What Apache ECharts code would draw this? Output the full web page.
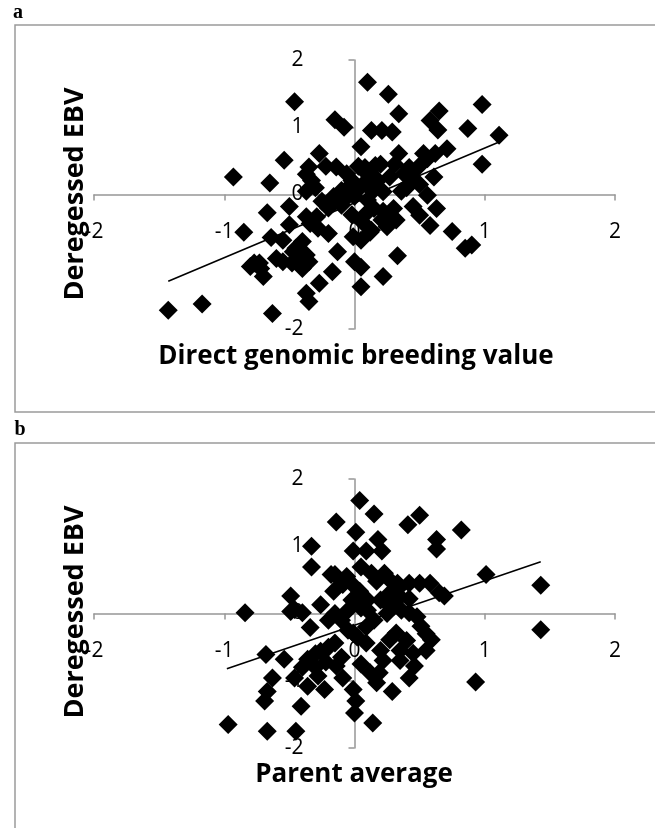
<!DOCTYPE html>
<html>
<head>
<meta charset="utf-8">
<script src="https://cdn.jsdelivr.net/npm/echarts@6/dist/echarts.min.js"></script>
<style>
html,body{margin:0;padding:0;background:#fff;}
#chart{width:655px;height:828px;}
</style>
</head>
<body>
<div id="chart"></div>
<script>
// ---- data ----
const xTicks = [-2, -1, 0, 1, 2];
const yTicks = [-2, -1, 0, 1, 2];

const panelLabels = ['a', 'b'];
const yTitle = 'Deregessed EBV';
const xTitleA = 'Direct genomic breeding value';
const xTitleB = 'Parent average';

// Panel a: direct genomic breeding value vs deregressed EBV
const dgbvPoints = [
  [0.10,1.67],[0.26,1.49],[0.34,1.20],[-0.46,1.38],[-0.15,1.11],[-0.08,1.00],[0.13,0.95],[0.21,0.95],
  [0.29,0.93],[0.98,1.34],[0.65,1.24],[0.58,1.10],[0.64,0.96],[0.87,0.98],[1.11,0.88],[0.71,0.68],
  [0.05,0.71],[0.98,0.45],[-0.27,0.61],[-0.54,0.51],[-0.93,0.26],[-0.65,0.17],
  [-0.35,0.41],[-0.37,0.30],[-0.33,0.21],[-0.37,0.05],[-0.14,0.41],[-0.06,0.31],[0.03,0.42],[0.10,0.30],
  [0.16,0.43],[0.34,0.61],[0.31,0.45],[0.38,0.31],[0.43,0.17],[0.49,0.41],[0.56,0.53],[0.61,0.26],
  [0.53,0.61],[0.62,0.61],[0.27,0.26],[0.18,0.21],[0.22,0.04],[0.06,0.14],[-0.02,0.21],[-0.10,0.06],
  [-0.16,-0.03],[-0.10,-0.16],[0.00,-0.03],[0.10,-0.08],[0.15,-0.21],[0.56,-0.01],[0.63,-0.21],[0.45,-0.18],
  [0.50,-0.31],[0.58,-0.46],[0.30,-0.21],[0.32,-0.38],[0.21,-0.38],[0.13,-0.53],[0.06,-0.41],[-0.01,-0.63],
  [0.75,-0.55],[0.85,-0.80],[0.90,-0.75],[0.33,-0.91],[0.22,-1.22],[0.05,-1.37],[0.00,-1.00],[0.05,-1.08],
  [-0.13,-0.85],[-0.20,-0.58],[-0.17,-1.15],[-0.27,-1.32],[-0.37,-1.47],[-0.35,-1.59],[-0.63,-1.77],[-1.17,-1.63],
  [-1.43,-1.72],[-0.85,-0.56],[-0.64,-0.64],[-0.67,-0.27],[-0.50,-0.18],[-0.37,-0.33],[-0.34,-0.43],[-0.29,-0.33],
  [-0.55,-0.68],[-0.40,-0.70],[-0.45,-0.80],[-0.40,-0.95],[-0.37,-0.90],[-0.55,-1.00],[-0.40,-1.10],[-0.60,-0.95],
  [-0.73,-1.02],[-0.70,-1.22],[-0.77,-1.02],[-0.72,-1.10],[-0.80,-1.07],[-0.47,-0.85],[-0.35,-1.00],[-0.48,-1.02],
  [0.12,-0.56],[0.05,-0.68],[0.22,-0.25],[0.27,-0.35],[0.25,-0.48],[0.40,0.10],[0.45,0.22],[0.36,0.05],
  [0.42,0.40],[0.50,0.15],[0.12,0.15],[0.14,0.05],[-0.05,0.10],[-0.08,-0.08],[0.03,0.08],[-0.22,0.42],
  [-0.30,0.10],[-0.25,-0.10],[-0.20,-0.20],[-0.28,-0.50],[-0.50,-0.45],[0.20,0.45],[0.08,0.40],[-0.02,-0.30],
  [0.08,-0.30]
];
const dgbvTrend = [[-1.43,-1.29],[1.11,0.78]];

// Panel b: parent average vs deregressed EBV
const paPoints = [
  [0.04,1.68],[0.15,1.48],[-0.14,1.36],[0.50,1.46],[0.41,1.32],[0.82,1.24],[0.01,1.21],[0.63,1.10],
  [0.63,0.96],[0.18,1.10],[0.21,0.93],[0.09,0.93],[-0.01,0.93],[-0.33,1.00],[-0.33,0.69],[0.05,0.69],
  [1.01,0.58],[1.43,0.42],[1.43,-0.24],[0.93,-1.02],[-0.15,0.58],[-0.09,0.43],[-0.16,0.33],[0.23,0.60],
  [0.17,0.48],[0.33,0.45],[0.42,0.45],[0.50,0.45],[0.58,0.45],[0.65,0.31],[0.69,0.26],[0.04,0.33],
  [0.29,0.46],[0.27,0.30],[0.35,0.25],[0.42,0.22],[0.30,0.10],[0.36,0.05],[0.20,0.20],[0.10,0.20],
  [0.05,0.08],[-0.02,0.20],[-0.49,0.26],[-0.46,0.06],[-0.40,0.01],[-0.84,0.01],[-0.26,0.13],[-0.18,0.58],
  [-0.49,0.03],[-0.34,-0.21],[-0.15,0.00],[-0.10,-0.10],[-0.20,-0.10],[-0.05,-0.25],[0.02,-0.35],[0.09,-0.20],
  [0.42,0.01],[0.51,-0.19],[0.59,-0.39],[0.45,-0.59],[0.46,-0.78],[0.42,-0.96],[0.29,-1.16],[0.19,-0.88],
  [0.17,-1.03],[0.12,-0.88],[0.14,-1.63],[0.00,-1.48],[0.01,-1.30],[-0.01,-1.13],[-0.09,-0.96],[-0.14,-0.78],
  [0.27,-0.39],[0.32,-0.29],[0.09,-0.44],[-0.01,-0.29],[-0.15,-0.44],[-0.68,-0.61],[-0.54,-0.68],[-0.36,-0.68],
  [-0.26,-0.56],[-0.63,-0.96],[-0.46,-0.96],[-0.67,-1.16],[-0.69,-1.30],[-0.41,-1.38],[-0.36,-1.08],[-0.28,-0.93],
  [-0.23,-1.13],[-0.97,-1.65],[-0.67,-1.75],[-0.45,-1.75],[-0.20,-0.50],[-0.30,-0.60],[-0.10,-0.65],[0.20,-0.55],
  [0.35,-0.55],[0.40,-0.40],[0.55,-0.30],[0.48,-0.05],[0.25,0.00],[0.15,-0.10],[0.10,0.05],[-0.05,0.05],
  [0.00,0.40],[-0.06,0.55],[0.13,0.60],[0.35,0.40],[0.25,0.15],[-0.40,-0.80],[-0.30,-0.80],[-0.22,-0.72],
  [0.05,-0.75],[0.22,-0.70],[0.35,-0.70],[0.55,-0.55]
];
const paTrend = [[-0.98,-0.82],[1.43,0.77]];

// ---- chart ----
const chart = echarts.init(document.getElementById('chart'), null, {renderer: 'canvas'});
const axisGray = '#969696';
const tickFont = {fontFamily: 'Open Sans', fontSize: 21, color: '#000'};
const GRID_W = 521, GRID_H = 269;

// the axes cross at zero: shift each axis from the grid edge to the zero line
function xAxisFor(gi) {
  return {
    type: 'value', gridIndex: gi, position: 'bottom',
    offset: -GRID_H * (0 - yTicks[0]) / (yTicks[yTicks.length - 1] - yTicks[0]),
    min: xTicks[0], max: xTicks[xTicks.length - 1], interval: 1,
    axisLine: {onZero: false, lineStyle: {color: axisGray, width: 1.5}},
    axisTick: {show: true, length: 6, lineStyle: {color: axisGray, width: 1.5}},
    axisLabel: Object.assign({margin: 27, showMinLabel: true, showMaxLabel: true}, tickFont),
    splitLine: {show: false}
  };
}
function yAxisFor(gi) {
  return {
    type: 'value', gridIndex: gi, position: 'left',
    offset: -GRID_W * (0 - xTicks[0]) / (xTicks[xTicks.length - 1] - xTicks[0]),
    min: yTicks[0], max: yTicks[yTicks.length - 1], interval: 1,
    axisLine: {onZero: false, lineStyle: {color: axisGray, width: 1.5}},
    axisTick: {show: true, length: 6, lineStyle: {color: axisGray, width: 1.5}},
    axisLabel: Object.assign({margin: 51, showMinLabel: true, showMaxLabel: true}, tickFont),
    splitLine: {show: false}
  };
}
function scatterFor(gi, pts) {
  return {
    type: 'scatter', xAxisIndex: gi, yAxisIndex: gi, data: pts,
    symbol: 'diamond', symbolSize: 19,
    itemStyle: {color: '#000', opacity: 1}, z: 3, silent: true
  };
}
function trendFor(gi, pts) {
  return {
    type: 'line', xAxisIndex: gi, yAxisIndex: gi, data: pts,
    showSymbol: false, symbol: 'none',
    lineStyle: {color: '#000', width: 1.6, opacity: 1}, z: 4, silent: true
  };
}

const titleFont = {fontFamily: 'Open Sans', fontWeight: 'bold', fontSize: 26, fill: '#000'};
const yTitleFont = {fontFamily: 'Open Sans', fontWeight: 'bold', fontSize: 27, fill: '#000'};
function txt(text, x, y, extra, rot) {
  return {
    type: 'text', x: x, y: y, rotation: rot || 0, silent: true,
    style: Object.assign({text: text, align: 'center', verticalAlign: 'middle'}, extra)
  };
}

chart.setOption({
  animation: false,
  backgroundColor: '#fff',
  grid: [
    {left: 94, top: 60, width: GRID_W, height: GRID_H},
    {left: 94, top: 479, width: GRID_W, height: GRID_H}
  ],
  xAxis: [xAxisFor(0), xAxisFor(1)],
  yAxis: [yAxisFor(0), yAxisFor(1)],
  series: [
    scatterFor(0, dgbvPoints), trendFor(0, dgbvTrend),
    scatterFor(1, paPoints), trendFor(1, paTrend)
  ],
  graphic: [
    {type: 'rect', silent: true, shape: {x: 15, y: 25, width: 700, height: 387},
     style: {fill: 'none', stroke: '#9a9a9a', lineWidth: 1.5}},
    {type: 'rect', silent: true, shape: {x: 15, y: 443, width: 700, height: 500},
     style: {fill: 'none', stroke: '#9a9a9a', lineWidth: 1.5}},
    txt(panelLabels[0], 18, 13, {fontFamily: 'Liberation Serif', fontWeight: 'bold', fontSize: 20, fill: '#000'}),
    txt(panelLabels[1], 20, 430, {fontFamily: 'Liberation Serif', fontWeight: 'bold', fontSize: 20, fill: '#000'}),
    txt(xTitleA, 356, 357, titleFont),
    txt(xTitleB, 354, 775, titleFont),
    txt(yTitle, 75, 194, yTitleFont, Math.PI / 2),
    txt(yTitle, 75, 612, yTitleFont, Math.PI / 2)
  ]
});
</script>
</body>
</html>
